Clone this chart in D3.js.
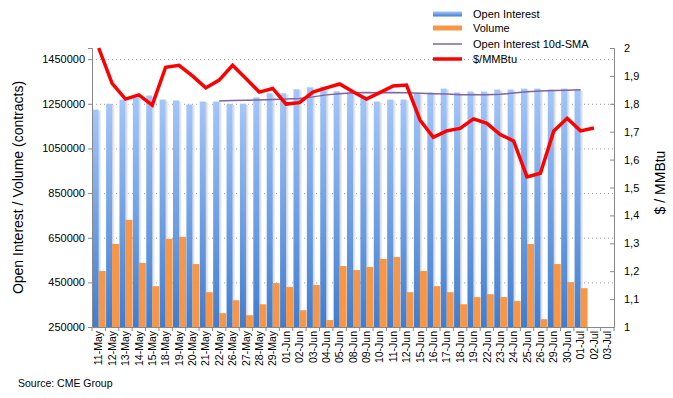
<!DOCTYPE html>
<html>
<head>
<meta charset="utf-8">
<script src="https://cdn.jsdelivr.net/npm/d3@7"></script>
<style>
  body { margin: 0; background: #fff; }
  svg { font-family: "Liberation Sans", Arial, sans-serif; }
</style>
</head>
<body>
<svg id="chart" width="673" height="398"></svg>
<script>
// ---- data ----
const dates = ["11-May","12-May","13-May","14-May","15-May","18-May","19-May","20-May","21-May","22-May",
  "26-May","27-May","28-May","29-May","01-Jun","02-Jun","03-Jun","04-Jun","05-Jun","08-Jun",
  "09-Jun","10-Jun","11-Jun","12-Jun","15-Jun","16-Jun","17-Jun","18-Jun","19-Jun","22-Jun",
  "23-Jun","24-Jun","25-Jun","26-Jun","29-Jun","30-Jun","01-Jul","02-Jul","03-Jul"];

const openInterest = [1224000,1250000,1269000,1278000,1287000,1269000,1265000,1247000,1260000,1260000,
  1250000,1250000,1279000,1297000,1297000,1315000,1324000,1328000,1306000,1299000,
  1278000,1260000,1269000,1269000,1296000,1301000,1318000,1301000,1305000,1305000,
  1314000,1314000,1318000,1318000,1314000,1318000,1314000,null,null];

const volume = [501000,622000,730000,537000,433000,645000,654000,532000,406000,312000,
  370000,303000,352000,447000,429000,325000,438000,281000,523000,505000,
  519000,555000,564000,406000,501000,433000,406000,352000,384000,397000,
  384000,366000,622000,285000,532000,451000,424000,null,null];

const oiSma = [null,null,null,null,null,null,null,null,null,1263000,
  1265000,1266000,1267000,1269000,1271000,1274000,1281000,1290000,1295000,1299000,
  1301000,1300000,1301000,1300000,1297000,1295000,1294000,1291000,1291000,1291000,
  1293000,1298000,1304000,1307000,1310000,1311000,1313000,null,null];

const price = [2.00,1.873,1.817,1.832,1.795,1.931,1.938,1.900,1.857,1.885,
  1.938,1.891,1.842,1.855,1.799,1.804,1.842,1.857,1.871,1.843,
  1.817,1.840,1.864,1.867,1.742,1.680,1.703,1.712,1.746,1.730,
  1.690,1.667,1.538,1.551,1.703,1.748,1.703,1.713,null];

const leftTicks = [250000,450000,650000,850000,1050000,1250000,1450000];
const rightTicks = [1,1.1,1.2,1.3,1.4,1.5,1.6,1.7,1.8,1.9,2];

// ---- layout ----
const svg = d3.select("#chart");
const margin = {top: 48, right: 59, bottom: 71, left: 92};
const width = 673 - margin.left - margin.right;
const height = 398 - margin.top - margin.bottom;

const g = svg.append("g").attr("transform", `translate(${margin.left},${margin.top})`);

const x = d3.scaleBand().domain(dates).range([0, width]).padding(0);
const yL = d3.scaleLinear().domain([250000, 1500000]).range([height, 0]);
const yR = d3.scaleLinear().domain([1, 2]).range([height, 0]);

const defs = svg.append("defs");
const grad = defs.append("linearGradient").attr("id", "blueGrad")
  .attr("x1", 0).attr("y1", 0).attr("x2", 0).attr("y2", 1);
grad.append("stop").attr("offset", "0%").attr("stop-color", "#a3c6fa");
grad.append("stop").attr("offset", "100%").attr("stop-color", "#3f7dd0");
const shadow = defs.append("linearGradient").attr("id", "shadowGrad")
  .attr("x1", 0).attr("y1", 0).attr("x2", 1).attr("y2", 0);
shadow.append("stop").attr("offset", "0%").attr("stop-color", "#cfcfcf");
shadow.append("stop").attr("offset", "100%").attr("stop-color", "#ffffff");

// gridlines
g.append("g").selectAll("line").data(leftTicks.slice(1)).join("line")
  .attr("x1", 0).attr("x2", width)
  .attr("y1", d => yL(d) + 0.5).attr("y2", d => yL(d) + 0.5)
  .attr("stroke", "#9a9a9a").attr("stroke-dasharray", "1,3");

const bw = x.bandwidth();

// bar shadows
g.append("g").selectAll("rect").data(dates.filter((d, i) => openInterest[i] != null)).join("rect")
  .attr("x", d => x(d) + 0.7 + bw * 0.45)
  .attr("y", (d, i) => yL(openInterest[i]) + 1)
  .attr("width", 3)
  .attr("height", (d, i) => height - yL(openInterest[i]) - 1)
  .attr("fill", "url(#shadowGrad)");

// open interest bars
g.append("g").selectAll("rect").data(dates.filter((d, i) => openInterest[i] != null)).join("rect")
  .attr("x", d => x(d) + 0.7)
  .attr("y", (d, i) => yL(openInterest[i]))
  .attr("width", bw * 0.45)
  .attr("height", (d, i) => height - yL(openInterest[i]))
  .attr("fill", "url(#blueGrad)");

// volume bars
g.append("g").selectAll("rect").data(dates.filter((d, i) => volume[i] != null)).join("rect")
  .attr("x", d => x(d) + 0.7 + bw * 0.45)
  .attr("y", (d, i) => yL(volume[i]))
  .attr("width", bw * 0.52)
  .attr("height", (d, i) => height - yL(volume[i]))
  .attr("fill", "#f79646");

// SMA line
const smaLine = d3.line()
  .defined(d => d[1] != null)
  .x(d => x(d[0]) + bw / 2)
  .y(d => yL(d[1]));
g.append("path").datum(dates.map((d, i) => [d, oiSma[i]]))
  .attr("d", smaLine).attr("fill", "none")
  .attr("stroke", "#8064a2").attr("stroke-width", 1.5);

// price line
const priceLine = d3.line()
  .defined(d => d[1] != null)
  .x(d => x(d[0]) + bw / 2)
  .y(d => yR(d[1]));
g.append("path").datum(dates.map((d, i) => [d, price[i]]))
  .attr("d", priceLine).attr("fill", "none")
  .attr("stroke", "#ff0000").attr("stroke-width", 3.5)
  .attr("stroke-linejoin", "miter");

// left axis
const axL = g.append("g")
  .call(d3.axisLeft(yL).tickValues(leftTicks).tickSize(4).tickPadding(3).tickFormat(d3.format("d")));
axL.select(".domain").attr("stroke", "#888");
axL.selectAll(".tick line").attr("stroke", "#888");
axL.selectAll("text").attr("font-size", 11).attr("fill", "#000").attr("font-family", "Liberation Sans, Arial");

// right axis
const axR = g.append("g").attr("transform", `translate(${width},0)`)
  .call(d3.axisRight(yR).tickValues(rightTicks).tickSize(-4).tickPadding(10)
    .tickFormat(d => d3.format(".1f")(d).replace(".", ",").replace(",0", "")));
axR.select(".domain").attr("stroke", "#888");
axR.selectAll(".tick line").attr("stroke", "#888");
axR.selectAll("text").attr("font-size", 11).attr("fill", "#000").attr("font-family", "Liberation Sans, Arial");

// bottom axis
const axB = g.append("g").attr("transform", `translate(0,${height})`)
  .call(d3.axisBottom(x).tickSize(0).tickPadding(0));
axB.select(".domain").attr("stroke", "#888");
axB.selectAll(".tick text")
  .attr("font-size", 10.5).attr("fill", "#000").attr("font-family", "Liberation Sans, Arial")
  .attr("transform", "rotate(-90)")
  .attr("text-anchor", "end")
  .attr("x", -4).attr("y", 0).attr("dy", "0.35em");
axB.append("g").selectAll("line").data(dates.concat(["_end"])).join("line")
  .attr("x1", (d, i) => i * bw).attr("x2", (d, i) => i * bw)
  .attr("y1", 0).attr("y2", 4).attr("stroke", "#888");

// axis titles
svg.append("text")
  .attr("transform", `translate(23,${margin.top + height / 2}) rotate(-90)`)
  .attr("text-anchor", "middle").attr("font-size", 14)
  .text("Open Interest / Volume (contracts)");
svg.append("text")
  .attr("transform", `translate(665,${margin.top + height / 2 - 5}) rotate(-90)`)
  .attr("text-anchor", "middle").attr("font-size", 14)
  .text("$ / MMBtu");

// source
svg.append("text").attr("x", 18).attr("y", 387).attr("font-size", 10.5).text("Source: CME Group");

// legend
const legendItems = [
  {name: "Open Interest", type: "bar", color: "url(#blueGrad)"},
  {name: "Volume", type: "bar", color: "#f79646"},
  {name: "Open Interest 10d-SMA", type: "line", color: "#8064a2", w: 1.5},
  {name: "$/MMBtu", type: "line", color: "#ff0000", w: 3.5}
];
const leg = svg.append("g").attr("transform", "translate(433,14)");
const li = leg.selectAll("g").data(legendItems).join("g")
  .attr("transform", (d, i) => `translate(0,${[0, 14, 30, 45][i]})`);
li.filter(d => d.type === "bar").append("rect")
  .attr("x", 0).attr("y", -2.5).attr("width", 29).attr("height", 5).attr("fill", d => d.color);
li.filter(d => d.type === "line").append("line")
  .attr("x1", 0).attr("x2", 29).attr("y1", 0).attr("y2", 0)
  .attr("stroke", d => d.color).attr("stroke-width", d => d.w);
li.append("text").attr("x", 40).attr("y", 0).attr("dy", "0.35em").attr("font-size", 11)
  .text(d => d.name);
</script>
</body>
</html>
